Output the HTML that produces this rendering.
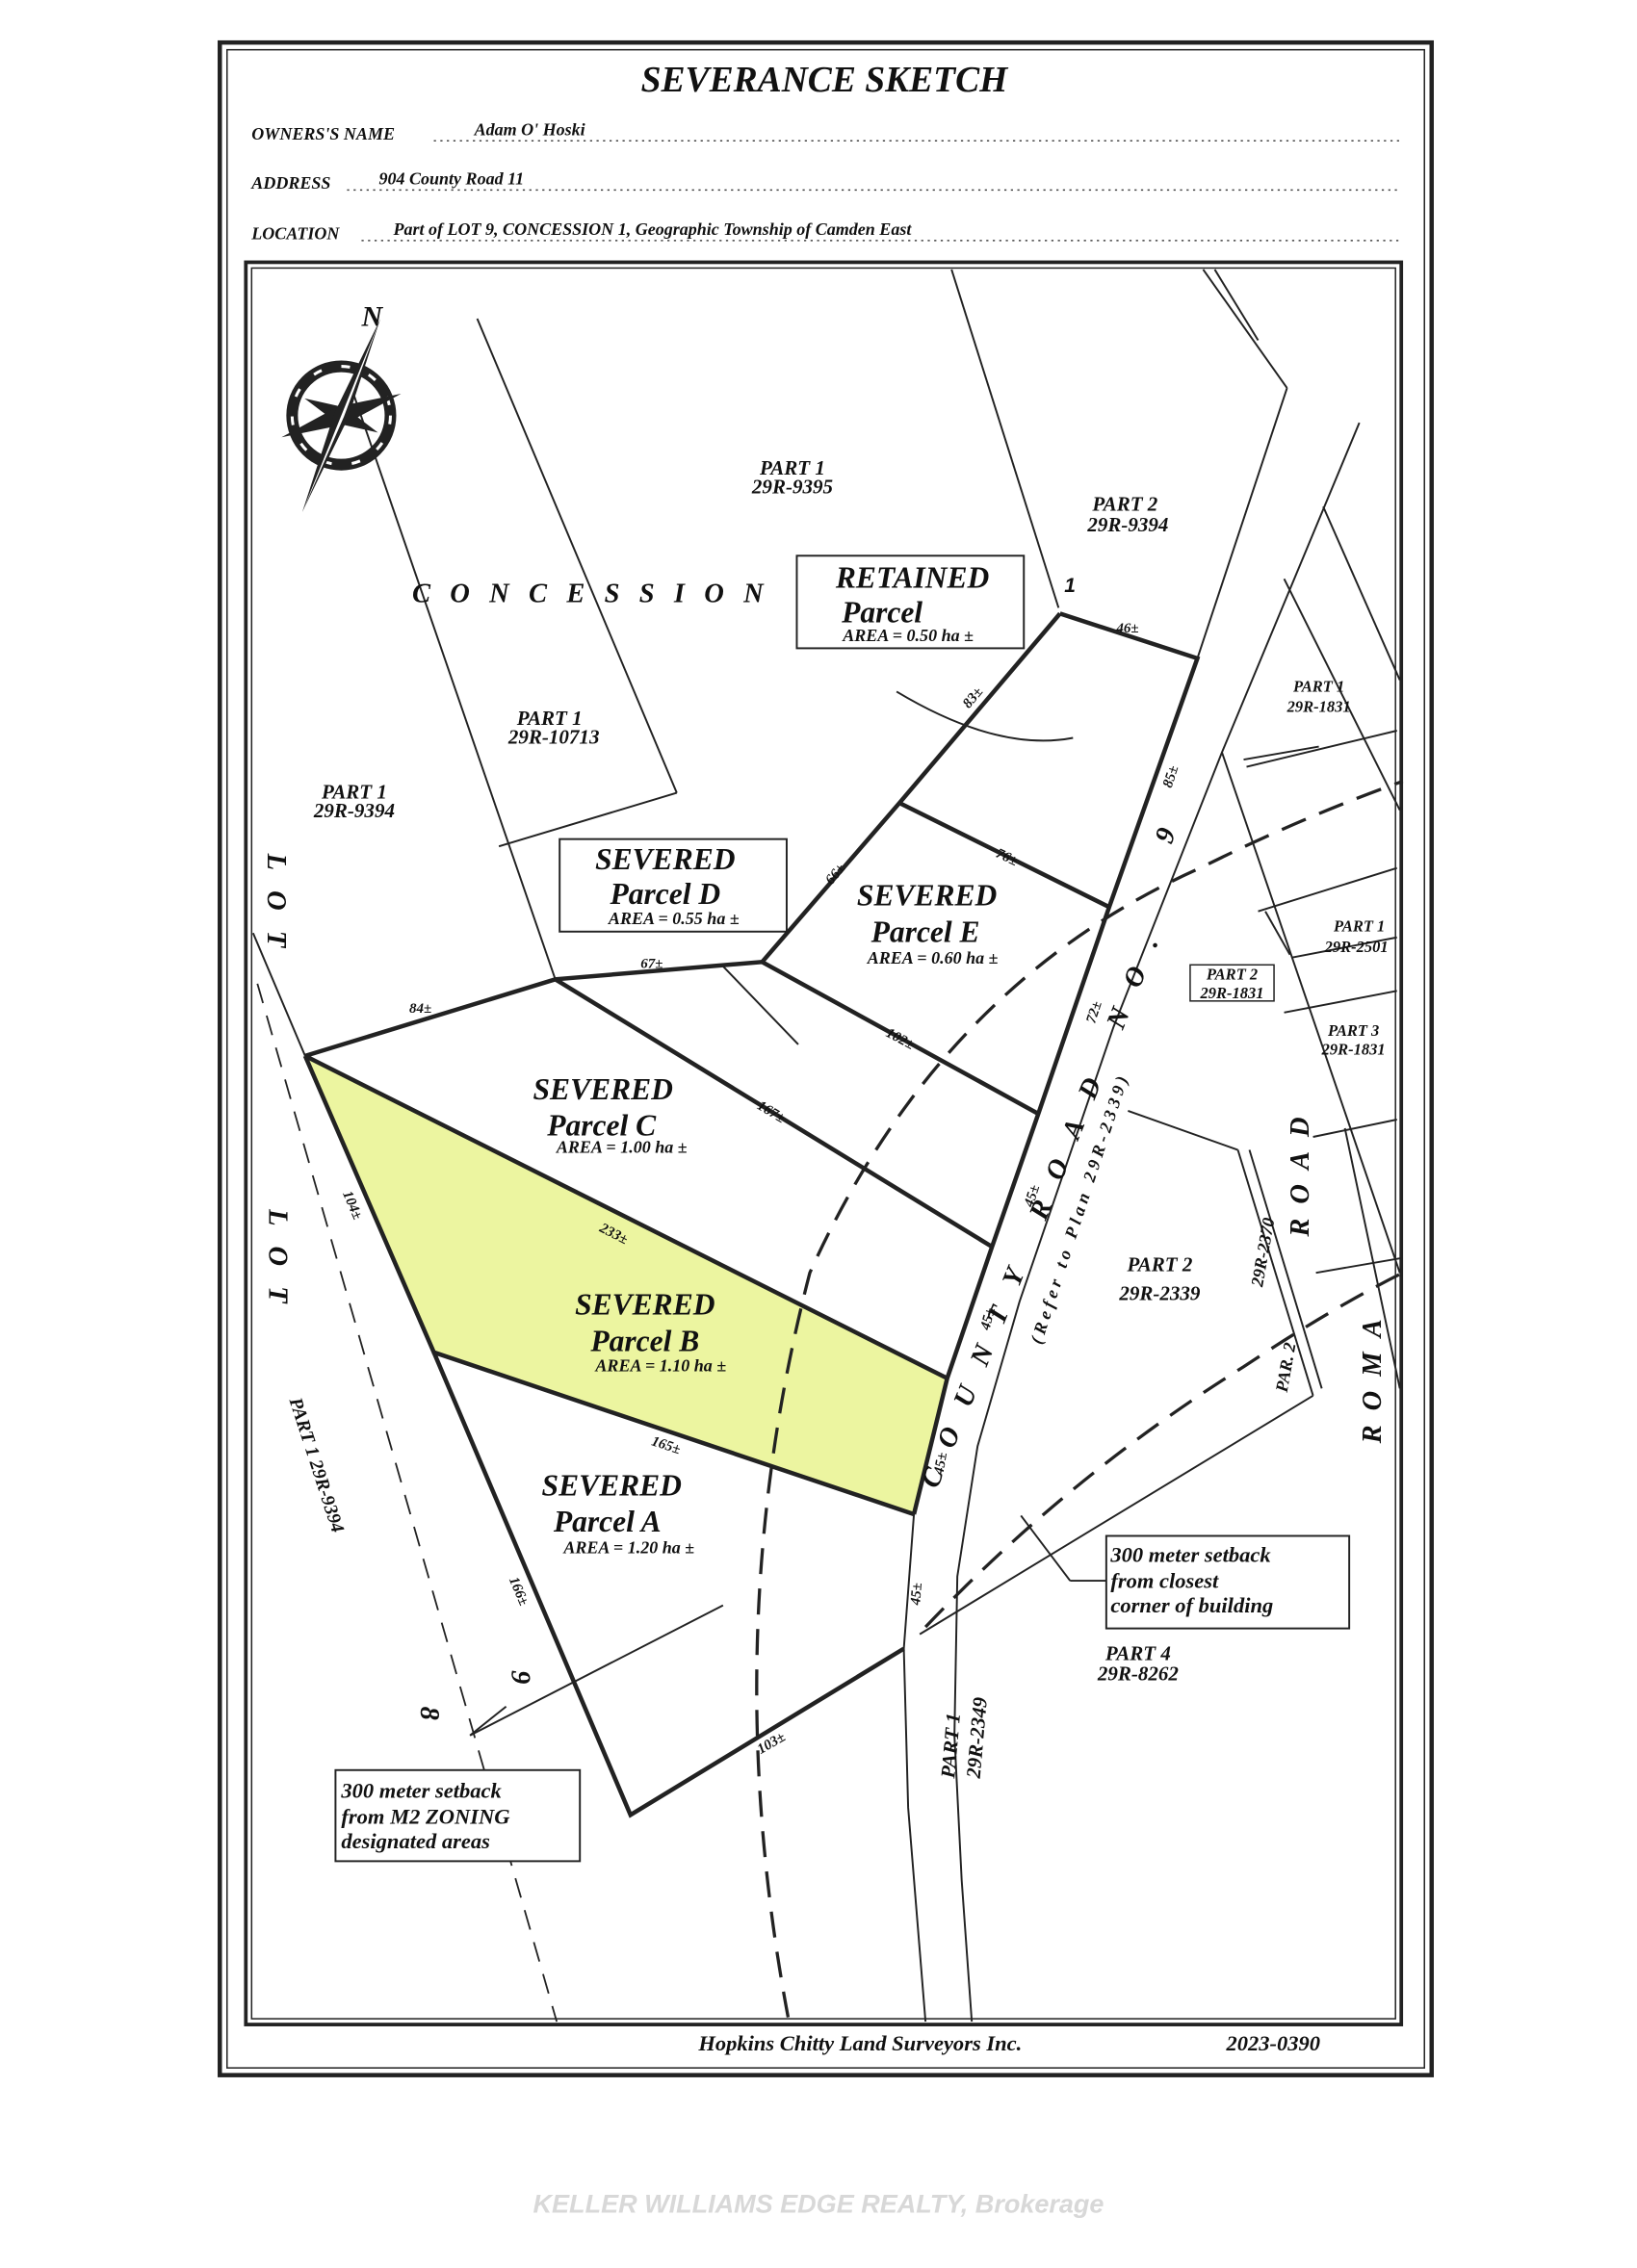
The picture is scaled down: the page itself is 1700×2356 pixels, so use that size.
<!DOCTYPE html>
<html><head><meta charset="utf-8"><style>
html,body{margin:0;padding:0;background:#fff}
svg{display:block}
text{font-family:"Liberation Serif",serif;font-style:italic;font-weight:bold;fill:#111}
.s{font-family:"Liberation Sans",sans-serif}
</style></head><body>
<svg width="1700" height="2356" viewBox="0 0 1132 1568" xmlns="http://www.w3.org/2000/svg">
<rect width="1132" height="1568" fill="#fff"/>
<rect x="152" y="29" width="838" height="1406" fill="none" stroke="#222" stroke-width="3"/>
<rect x="157" y="34" width="828" height="1396" fill="none" stroke="#222" stroke-width="1"/>
<rect x="170" y="181" width="799" height="1219" fill="none" stroke="#222" stroke-width="2.5"/>
<rect x="174" y="185" width="791" height="1211" fill="none" stroke="#222" stroke-width="1"/>
<text x="570" y="63" font-size="25" text-anchor="middle" font-weight="normal">SEVERANCE  SKETCH</text>
<g font-size="12">
<text x="174" y="96">OWNERS'S NAME</text><text x="328" y="93">Adam O' Hoski</text>
<text x="174" y="130">ADDRESS</text><text x="262" y="127">904 County Road 11</text>
<text x="174" y="165">LOCATION</text><text x="272" y="162">Part of LOT 9, CONCESSION 1, Geographic Township of Camden East</text>
</g>
<g stroke="#444" stroke-dasharray="1.5 3" stroke-width="1">
<line x1="300" y1="97" x2="968" y2="97"/><line x1="240" y1="131" x2="968" y2="131"/><line x1="250" y1="166" x2="968" y2="166"/></g>
<polygon points="211,730 655,953 632,1047 300,935" fill="#ecf5a0"/>
<g stroke="#222" fill="none" stroke-width="1.3">
<line x1="330" y1="220" x2="468" y2="548"/><line x1="345" y1="585" x2="468" y2="548"/>
<line x1="242" y1="265" x2="384" y2="677"/>
<line x1="175" y1="645" x2="211" y2="730"/>
<line x1="658" y1="186" x2="732" y2="420"/>
<line x1="832" y1="186" x2="890" y2="268"/><line x1="890" y1="268" x2="828" y2="455"/>
<line x1="840" y1="186" x2="870" y2="235"/>
<path d="M940,292 L845,520 L770,710 L705,900 L676,1000 L662,1090 L660,1200 L665,1300 L672,1398"/>
<path d="M632,1047 L625,1140 L628,1250 L640,1398"/>
<line x1="915" y1="350" x2="968" y2="470"/><line x1="888" y1="400" x2="968" y2="560"/>
<line x1="845" y1="520" x2="968" y2="880"/><line x1="930" y1="780" x2="968" y2="960"/>
<line x1="912" y1="516" x2="860" y2="525"/>
<line x1="862" y1="530" x2="966" y2="505"/><line x1="870" y1="630" x2="966" y2="600"/>
<line x1="875" y1="630" x2="892" y2="660"/><line x1="893" y1="662" x2="966" y2="648"/>
<line x1="888" y1="700" x2="966" y2="685"/><line x1="908" y1="786" x2="966" y2="774"/>
<line x1="780" y1="768" x2="856" y2="795"/><line x1="856" y1="795" x2="908" y2="965"/><line x1="864" y1="795" x2="914" y2="960"/>
<line x1="910" y1="880" x2="968" y2="870"/>
<line x1="636" y1="1130" x2="908" y2="965"/>
<line x1="325" y1="1200" x2="500" y2="1110"/>
<line x1="500" y1="668" x2="552" y2="722"/>
<path d="M620,478 Q690,520 742,510"/>
<line x1="706" y1="1048" x2="740" y2="1093"/><line x1="740" y1="1093" x2="765" y2="1093"/>
<line x1="350" y1="1180" x2="325" y2="1200"/>
</g>
<g stroke="#222" fill="none" stroke-width="2.2" stroke-dasharray="18 10">
<path d="M545,1395 Q495,1130 560,880 Q650,680 830,600 Q900,565 970,540"/>
<path d="M640,1125 Q740,1020 860,945 Q920,905 970,880"/>
</g>
<path d="M178,680 L385,1398" stroke="#222" stroke-width="1.2" stroke-dasharray="14 9" fill="none"/>
<g stroke="#222" stroke-width="3" fill="none">
<polyline points="733,424 828,455 767,627 718,770 686,862 655,953 632,1047"/>
<polyline points="733,424 622,555 527,665"/>
<line x1="622" y1="555" x2="767" y2="627"/>
<polyline points="211,730 384,677 527,665 718,770"/>
<line x1="384" y1="677" x2="686" y2="862"/>
<line x1="211" y1="730" x2="655" y2="953"/>
<polyline points="211,730 300,935 632,1047"/>
<polyline points="300,935 436,1255 625,1140"/>
</g>
<g transform="translate(236,287)">
<circle r="34" fill="none" stroke="#222" stroke-width="8"/>
<circle r="34" fill="none" stroke="#fff" stroke-width="2" stroke-dasharray="6 14"/>
<g fill="#222">
<polygon points="0,-28 5,-5 0,0 -5,-5" transform="rotate(25)"/>
<polygon points="0,-28 5,-5 0,0 -5,-5" transform="rotate(115)"/>
<polygon points="0,-28 5,-5 0,0 -5,-5" transform="rotate(205)"/>
<polygon points="0,-28 5,-5 0,0 -5,-5" transform="rotate(295)"/>
<polygon points="0,-44 6,-4 0,0 -6,-4" transform="rotate(-20) rotate(90)"/>
<polygon points="0,-44 6,-4 0,0 -6,-4" transform="rotate(-20) rotate(270)"/>
</g>
<polygon points="0,-72 5,0 0,72 -5,0" transform="rotate(22)" fill="#222"/>
<polygon points="0,-72 2,0 0,72" transform="rotate(22)" fill="#fff"/>
</g>
<text x="250" y="225" font-size="20" font-weight="bold">N</text>
<g font-size="14" text-anchor="middle">
<text x="548" y="328">PART 1</text><text x="548" y="341">29R-9395</text>
<text x="778" y="353">PART 2</text><text x="780" y="367">29R-9394</text>
<text x="380" y="501">PART 1</text><text x="383" y="514">29R-10713</text>
<text x="245" y="552">PART 1</text><text x="245" y="565">29R-9394</text>
<text x="802" y="879">PART 2</text><text x="802" y="899">29R-2339</text>
<text x="787" y="1148">PART 4</text><text x="787" y="1162">29R-8262</text>
</g>
<g font-size="11" text-anchor="middle">
<text x="912" y="478">PART 1</text><text x="912" y="492">29R-1831</text>
<text x="940" y="644">PART 1</text><text x="938" y="658">29R-2501</text>
<text x="936" y="716">PART 3</text><text x="936" y="729">29R-1831</text>
<text x="852" y="677">PART 2</text><text x="852" y="690">29R-1831</text>
</g>
<rect x="823" y="667" width="58" height="25" fill="none" stroke="#222"/>
<text x="285" y="416" font-size="19" letter-spacing="13.5" font-weight="normal">CONCESSION</text>
<g font-size="19" font-weight="normal">
<text x="185" y="590" transform="rotate(90 185 590)" letter-spacing="14">LOT</text>
<text x="186" y="836" transform="rotate(90 186 836)" letter-spacing="14">LOT</text>
<text x="354" y="1155" transform="rotate(90 354 1155)">9</text>
<text x="291" y="1180" transform="rotate(90 291 1180)">8</text>
<text x="810" y="584" transform="rotate(-70 810 584)">9</text>
<text x="648" y="1030" transform="rotate(-68 648 1030)" letter-spacing="17">COUNTY ROAD NO.</text>
<text x="905" y="855" transform="rotate(-90 905 855)" letter-spacing="10">ROAD</text>
<text x="955" y="998" transform="rotate(-90 955 998)" letter-spacing="10">ROMA</text>
</g>
<text x="720" y="930" font-size="12" transform="rotate(-72 720 930)" letter-spacing="3">(Refer to Plan 29R-2339)</text>
<text x="200" y="968" font-size="13" transform="rotate(72 200 968)">PART 1   29R-9394</text>
<text x="660" y="1230" font-size="14" transform="rotate(-85 660 1230)">PART 1</text>
<text x="668" y="1225" font-size="14" transform="rotate(-85 668 1225)" dx="-4" dy="10">29R-2349</text>
<text x="873" y="890" font-size="12" transform="rotate(-80 873 890)">29R-2370</text>
<text x="890" y="963" font-size="12" transform="rotate(-80 890 963)">PAR. 2</text>
<g fill="#fff" stroke="#222" stroke-width="1.3">
<rect x="551" y="384" width="157" height="64"/>
<rect x="387" y="580" width="157" height="64"/>
<rect x="765" y="1062" width="168" height="64"/>
<rect x="232" y="1224" width="169" height="63"/>
</g>
<g font-size="21" text-anchor="middle">
<text x="631" y="406">RETAINED</text><text x="610" y="430">Parcel</text>
<text x="460" y="601">SEVERED</text><text x="460" y="625">Parcel D</text>
<text x="641" y="626">SEVERED</text><text x="640" y="651">Parcel E</text>
<text x="417" y="760">SEVERED</text><text x="416" y="785">Parcel C</text>
<text x="446" y="909">SEVERED</text><text x="446" y="934">Parcel B</text>
<text x="423" y="1034">SEVERED</text><text x="420" y="1059">Parcel A</text>
</g>
<g font-size="12" text-anchor="middle">
<text x="628" y="443">AREA = 0.50 ha ±</text>
<text x="466" y="639">AREA = 0.55 ha ±</text>
<text x="645" y="666">AREA = 0.60 ha ±</text>
<text x="430" y="797">AREA = 1.00 ha ±</text>
<text x="457" y="948">AREA = 1.10 ha ±</text>
<text x="435" y="1074">AREA = 1.20 ha ±</text>
</g>
<g font-size="15" text-anchor="start">
<text x="768" y="1080">300 meter setback</text><text x="768" y="1098">from closest</text><text x="768" y="1115">corner of building</text>
<text x="236" y="1243">300 meter setback</text><text x="236" y="1261">from M2 ZONING</text><text x="236" y="1278">designated areas</text>
</g>
<g font-size="10" class="s" font-style="normal">
<text x="772" y="437">46±</text>
<text x="670" y="490" transform="rotate(-50 670 490)">83±</text>
<text x="810" y="545" transform="rotate(-72 810 545)">85±</text>
<text x="688" y="592" transform="rotate(25 688 592)">76±</text>
<text x="575" y="612" transform="rotate(-50 575 612)">66±</text>
<text x="443" y="669">67±</text>
<text x="283" y="700">84±</text>
<text x="612" y="716" transform="rotate(28 612 716)">102±</text>
<text x="757" y="708" transform="rotate(-72 757 708)">72±</text>
<text x="523" y="766" transform="rotate(31 523 766)">167±</text>
<text x="714" y="835" transform="rotate(-72 714 835)">45±</text>
<text x="414" y="851" transform="rotate(27 414 851)">233±</text>
<text x="684" y="920" transform="rotate(-75 684 920)">45±</text>
<text x="237" y="825" transform="rotate(67 237 825)">104±</text>
<text x="450" y="999" transform="rotate(18 450 999)">165±</text>
<text x="652" y="1020" transform="rotate(-80 652 1020)">45±</text>
<text x="636" y="1110" transform="rotate(-85 636 1110)">45±</text>
<text x="352" y="1092" transform="rotate(67 352 1092)">166±</text>
<text x="526" y="1213" transform="rotate(-30 526 1213)">103±</text>
</g>
<text x="736" y="409" font-size="14" class="s" font-style="normal">1</text>
<text x="483" y="1418" font-size="15">Hopkins Chitty Land Surveyors Inc.</text>
<text x="848" y="1418" font-size="15">2023-0390</text>
<text x="566" y="1530" font-size="18" class="s" font-style="normal" font-weight="normal" text-anchor="middle" style="fill:#d8d8d8">KELLER WILLIAMS EDGE REALTY, Brokerage</text>
</svg>
</body></html>
